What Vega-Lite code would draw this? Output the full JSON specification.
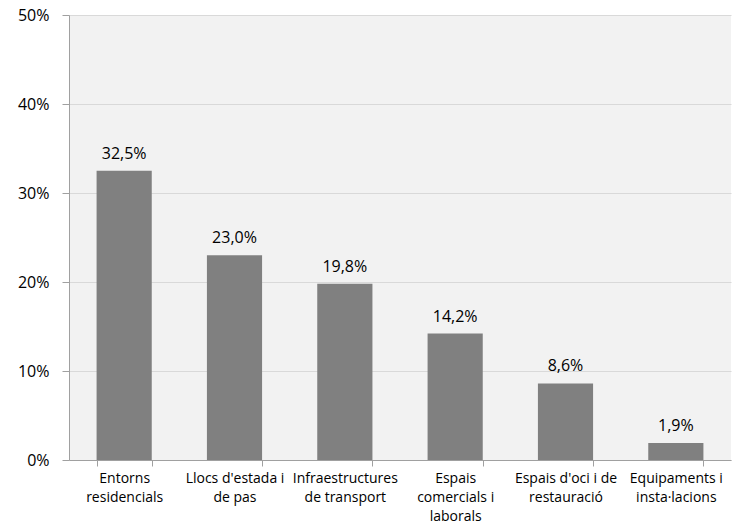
{
  "$schema": "https://vega.github.io/schema/vega-lite/v6.json",
  "width": 662,
  "height": 445,
  "autosize": {"type": "none"},
  "padding": {"left": 69, "top": 15, "right": 1, "bottom": 69},
  "background": "white",
  "config": {
    "locale": {"number": {"decimal": ",", "thousands": ".", "grouping": [3], "currency": ["", " €"]}},
    "view": {"fill": "#f2f2f2", "stroke": null},
    "font": "Open Sans"
  },
  "data": {
    "values": [
      {"categoria": "Entorns|residencials", "valor": 0.325},
      {"categoria": "Llocs d'estada i|de pas", "valor": 0.230},
      {"categoria": "Infraestructures|de transport", "valor": 0.198},
      {"categoria": "Espais|comercials i|laborals", "valor": 0.142},
      {"categoria": "Espais d'oci i de|restauració", "valor": 0.086},
      {"categoria": "Equipaments i|insta·lacions", "valor": 0.019}
    ]
  },
  "encoding": {
    "x": {
      "field": "categoria",
      "type": "nominal",
      "sort": null,
      "scale": {"paddingInner": 0.5, "paddingOuter": 0.25},
      "axis": {
        "title": null,
        "labelAngle": 0,
        "labelExpr": "split(datum.label, '|')",
        "labelFontSize": 14,
        "labelColor": "#000000",
        "labelPadding": 5,
        "labelLineHeight": 19,
        "labelLimit": 200,
        "tickBand": "extent",
        "tickSize": 6,
        "tickColor": "#a0a0a0",
        "domainColor": "#a0a0a0",
        "grid": false
      }
    },
    "y": {
      "field": "valor",
      "type": "quantitative",
      "scale": {"domain": [0, 0.5], "nice": false},
      "axis": {
        "title": null,
        "format": ".0%",
        "values": [0, 0.1, 0.2, 0.3, 0.4, 0.5],
        "labelFontSize": 16,
        "labelColor": "#000000",
        "labelPadding": 13,
        "tickSize": 7,
        "tickColor": "#a0a0a0",
        "domainColor": "#a0a0a0",
        "gridColor": "#d9d9d9",
        "gridWidth": 1.2
      }
    }
  },
  "layer": [
    {"mark": {"type": "bar", "color": "#808080"}},
    {
      "mark": {"type": "text", "baseline": "alphabetic", "dy": -12, "fontSize": 16, "color": "#000000"},
      "encoding": {"text": {"field": "valor", "type": "quantitative", "format": ".1%"}}
    }
  ]
}
